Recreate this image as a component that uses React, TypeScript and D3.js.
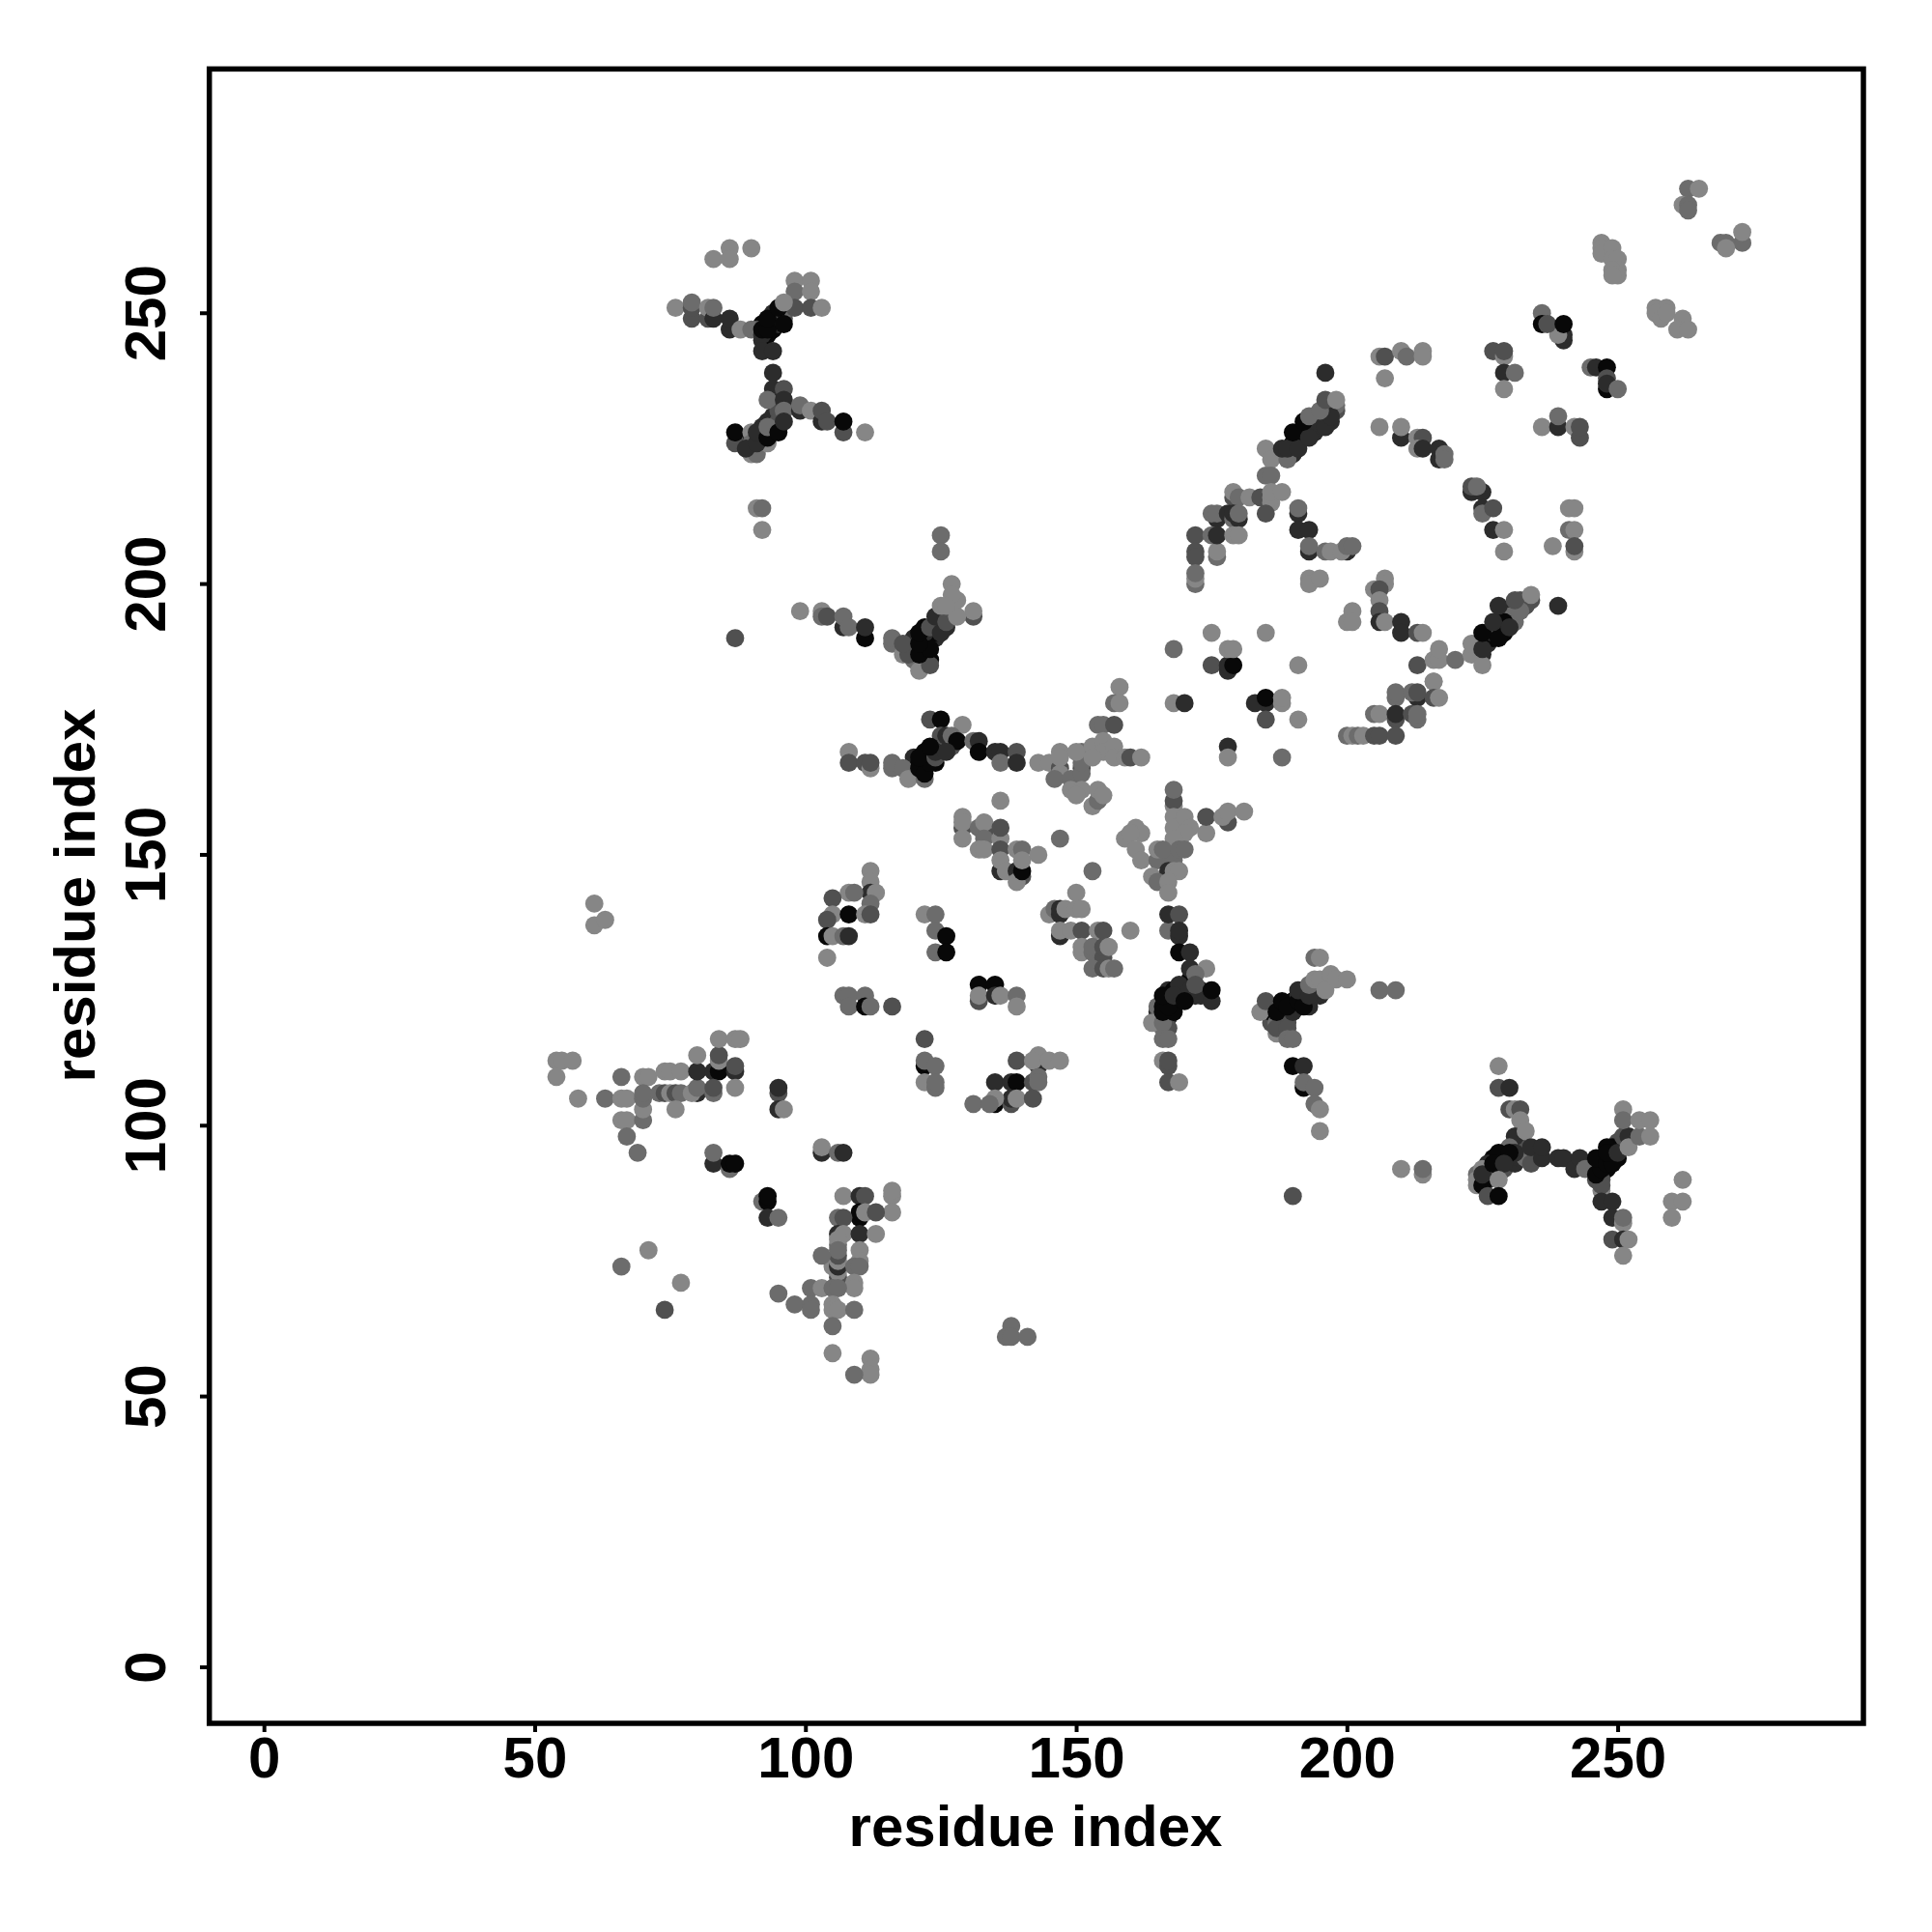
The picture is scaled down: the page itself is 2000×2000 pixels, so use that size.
import React from "react";
import * as d3 from "d3";

const L = 134, M = 108, D = 80, K = 44, B = 8;
type P = [number, number, number];

const tickValues = [0, 50, 100, 150, 200, 250];
const axisTitle = "residue index";

const denseStrands: P[] = [
  // ring upper diagonal
  [189,224,K],[190,225,B],[191,226,K],[192,227,B],[193,228,K],[194,229,B],[195,230,K],[196,231,K],[197,232,K],[190,224,K],[191,227,B],[192,228,K],[193,229,B],[194,230,K],[195,231,D],[196,232,D],[197,233,D],[194,228,K],[195,229,K],[188,224,K],[187,224,D],[190,226,B],
  [196,230,K],[197,230,K],[198,232,D],[198,233,M],
  // ring lower diagonal
  [226,189,K],[227,190,B],[228,191,B],[229,192,B],[230,193,K],[231,194,K],[232,196,D],[233,196,D],[234,197,D],[226,191,B],[227,192,B],[228,193,K],[229,194,K],[230,195,K],[231,195,K],[232,197,D],[233,197,D],[226,190,B],[227,191,K],[228,192,D],[229,191,B],[230,194,M],[231,193,M],[229,193,B],[224,188,M],[225,187,K],
  // upper left Y
  [90,227,K],[91,227,B],[92,228,B],[92,229,K],[93,230,K],[94,230,B],[94,231,K],[95,231,K],[95,232,D],[96,233,D],[94,228,B],[92,226,K],[94,229,K],[93,228,B],[92,227,D],[95,229,B],[95,230,D],
  [92,245,K],[92,248,B],[93,248,B],[94,249,B],[94,250,K],[95,250,B],[96,250,B],[94,247,B],[93,246,B],[91,247,D],[95,249,B],[94,248,K],[95,248,K],[96,249,D],[97,251,M],
  // upper mid
  [120,188,B],[120,190,K],[122,188,B],[122,190,B],[122,192,B],[123,190,B],[124,190,K],[124,192,D],[125,193,K],[126,195,K],[127,195,D],[127,196,M],[120,187,D],[122,186,B],[123,186,B],[121,186,K],[125,192,K],[126,192,K],[124,191,B],[122,191,K],[120,186,M],[119,188,D],
  // centre chain
  [120,166,B],[120,167,B],[120,168,K],[122,166,B],[122,167,B],[122,169,B],[123,168,B],[124,170,K],[125,170,K],[125,171,K],[126,171,D],[126,170,K],[127,170,D],[121,167,B],[122,168,D],[124,167,B],[125,169,B],[127,171,K],[123,169,K],[120,165,D],[121,165,K],
  // centre stem
  [165,120,M],[167,120,K],[167,123,B],[168,122,B],[168,123,K],[169,123,B],[169,124,B],[170,124,K],[170,125,B],[171,126,K],[171,127,B],[172,125,K],[169,125,D],[165,121,K],[173,125,K],[173,124,K],[171,124,B],[172,124,K],[165,119,M],[166,118,M],[167,118,D],[167,125,K],[168,125,B],[166,120,B],
  // right branch
  [186,120,B],[187,120,B],[188,120,K],[188,121,B],[189,120,K],[189,121,B],[190,122,B],[190,123,B],[191,122,B],[191,124,K],[192,124,K],[192,125,D],[193,125,K],[192,123,B],[193,122,K],[194,125,D],[186,119,D],[188,119,D],[186,121,B],[194,124,K],[195,124,K],[193,123,K],[187,119,M],[189,119,D],
  // lower right, left arm
  [225,90,B],[226,90,K],[226,91,B],[226,92,B],[227,91,K],[227,92,B],[228,93,B],[228,94,K],[229,94,K],[229,95,B],[230,94,K],[232,96,D],[227,94,B],[229,92,D],[226,93,K],[228,92,D],[224,91,M],[231,93,K],[232,94,K],[233,94,M],
  // lower right, right arm
  [246,92,B],[246,93,B],[247,93,B],[247,94,B],[248,94,B],[249,94,B],[249,95,K],[250,96,K],[250,97,D],[251,96,B],[251,97,K],[247,91,K],[248,92,B],[245,92,K],[246,90,D],[247,90,D],[249,96,B],[250,94,B],[245,93,B],
  // small black stacks
  [106,78,M],[106,72,D],
];

const lowerLeft: P[] = [
  [54,112,L],[55,112,L],[57,112,L],[54,109,L],[58,105,L],[63,105,M],[66,109,M],[66,105,L],[67,105,L],[66,101,L],[67,101,L],[67,98,M],[69,95,M],
  [70,109,L],[71,109,L],[70,101,M],[70,103,L],[70,105,M],[70,106,M],[74,110,L],[75,110,L],[77,110,L],[73,106,M],[74,106,D],[75,106,L],[76,106,D],[77,106,M],[76,103,L],
  [80,106,K],[79,106,L],[80,107,M],[80,110,K],[80,113,L],[83,110,K],[84,110,B],[84,112,L],[84,113,D],[84,116,L],[83,106,M],[83,107,D],[87,116,L],[88,116,L],[87,110,K],[87,111,D],[87,107,L],
  [95,106,D],[95,107,K],[95,103,K],[96,103,L],[83,93,K],[83,95,M],[86,92,M],[86,93,B],[87,93,B],[103,95,K],[103,96,L],[106,95,M],[107,95,K],
  [92,86,M],[93,86,B],[93,87,B],[93,83,K],[95,83,M],
];
const lowerStem: P[] = [
  [107,87,L],[110,87,K],[111,87,D],[116,87,L],[116,88,L],[116,84,L],[110,83,B],[110,84,B],[111,84,L],[113,84,D],[106,83,M],[107,83,D],
  [106,80,K],[107,80,L],[110,80,K],[113,80,L],[106,79,L],[106,73,L],[105,74,L],[106,74,K],[106,75,L],[106,76,D],[106,77,M],[103,76,M],
  [110,77,L],[110,75,L],[109,74,M],[110,74,M],[109,71,L],[109,70,L],[101,70,M],[103,70,L],[105,70,M],[106,70,M],[95,69,M],[98,67,M],[101,67,M],[101,66,M],
  [105,67,L],[105,66,L],[106,66,L],[109,66,M],[105,63,M],[105,58,L],[112,57,L],[112,55,L],[112,54,L],[109,54,M],
  [138,63,M],[137,61,M],[138,61,M],[141,61,M],[66,74,M],[71,77,L],[77,71,L],[74,66,D],[61,141,L],[61,137,L],[63,138,L],
];
const midLeft: P[] = [
  [122,116,D],[122,111,B],[122,112,M],[124,111,M],[122,108,L],[124,107,M],[124,108,M],
  [112,147,L],[112,145,L],[112,143,K],[113,143,L],[108,143,L],[109,143,M],[105,142,D],[112,141,M],[105,139,L],[104,138,D],[108,139,B],[111,139,L],[112,139,D],
  [104,135,B],[105,135,L],[107,135,M],[108,135,K],[104,131,L],[122,139,L],[124,139,M],[124,136,M],[126,135,B],[124,132,M],[126,132,B],
  [107,124,M],[108,124,M],[111,124,M],[108,122,M],[111,122,B],[112,122,M],[116,122,D],
  [132,123,D],[132,126,B],[135,126,B],[132,124,L],[135,124,K],[136,124,L],[139,124,M],[139,122,L],
  [143,111,K],[139,112,D],[143,113,L],[142,112,L],[145,112,L],[147,112,L],[135,108,K],[138,108,K],[139,108,B],[142,108,D],[143,109,M],[143,108,M],
  [135,104,B],[138,104,D],[138,105,K],[135,105,L],[139,105,L],[142,105,D],[131,104,M],[134,104,M],
];
const centerChain: P[] = [
  [123,175,D],[125,175,B],[129,174,L],[125,172,D],[126,172,K],[127,172,M],[128,171,B],[131,171,M],[132,171,K],[132,169,B],[135,169,K],[136,169,K],[139,169,D],[136,167,M],[139,167,K],
  [108,169,L],[108,167,D],[111,167,D],[112,166,L],[112,167,D],[116,166,M],[116,167,M],[118,166,M],[119,164,L],[122,164,M],
  [121,166,B],[122,165,B],[123,167,B],[121,168,B],[124,168,D],[124,169,K],[126,169,K],[123,170,B],
];
const centerLight: P[] = [
  [158,181,L],[157,178,M],[158,178,L],[154,174,M],[155,174,M],[157,174,D],
  [143,167,L],[145,167,L],[147,166,D],[147,165,L],[146,164,M],[149,164,M],[147,169,L],[147,168,L],[151,166,D],[151,165,M],[151,167,M],[151,169,M],[150,169,L],
  [149,162,L],[151,162,L],[150,161,L],[153,159,L],[154,160,M],[154,162,L],[155,161,L],
  [153,170,L],[155,171,L],[155,169,L],[153,168,L],[157,170,L],[157,168,L],[159,168,L],[160,168,D],[162,168,L],
  [168,159,L],[168,160,D],[168,162,M],[168,157,L],[168,155,L],[170,157,L],[171,155,L],[170,154,L],[168,153,L],
  [174,154,L],[174,157,D],[178,156,D],[177,157,L],[178,158,L],[181,158,L],
  [161,155,L],[162,154,L],[159,153,L],[160,154,L],[161,151,L],[162,149,L],[165,149,M],[168,149,M],[165,151,L],[166,151,M],[169,151,M],[170,151,M],
  [164,146,L],[167,147,K],[168,147,L],[169,147,L],[165,145,M],[167,145,L],[167,143,L],
];
const centerBlocks: P[] = [
  [129,155,D],[129,157,L],[129,156,L],[129,153,L],[133,154,D],[132,155,M],[133,156,L],[133,153,M],[132,151,L],[133,151,L],[136,153,L],[136,155,D],[136,151,D],[136,147,K],[136,149,L],[137,147,L],[136,160,L],
  [139,147,K],[140,146,D],[139,145,L],[140,147,B],[139,151,L],[140,151,M],[140,149,L],[143,150,L],[147,153,M],[153,147,M],
  [150,143,L],[145,139,L],[146,140,M],[147,139,K],[147,140,K],[148,140,L],[150,140,L],[151,140,L],
  [147,135,K],[147,136,L],[149,136,L],[151,136,D],[154,136,L],[155,136,D],[160,136,L],
  [151,132,L],[151,133,L],[153,132,M],[153,133,M],[155,131,D],[155,133,D],[156,133,L],[153,129,M],[155,129,D],[156,129,L],[157,129,M],
];
const centerStem: P[] = [
  [167,136,M],[167,139,K],[169,139,D],[169,135,K],[169,136,K],[169,132,B],[171,132,K],[171,129,K],[174,129,L],[172,128,M],[169,126,K],[171,125,K],[172,126,D],[175,123,K],[175,125,B],
  [165,122,M],[164,119,L],[166,119,M],[166,116,M],[167,116,M],[166,122,B],[166,121,B],[168,121,B],[167,122,B],[166,124,B],[168,124,K],[170,123,B],
  [166,112,L],[167,111,D],[167,112,D],[167,108,D],[169,108,L],
];
const rightBranch: P[] = [
  [184,121,L],[185,123,D],[187,117,L],[187,118,D],[189,118,D],[189,116,M],[190,116,M],[187,121,B],[188,123,B],[190,121,K],[189,122,B],[191,123,B],[192,122,B],[191,125,K],[193,124,K],[193,126,M],
  [194,131,M],[195,131,L],[194,127,L],[195,127,L],[196,125,L],[197,128,L],[198,127,L],[200,127,L],[206,125,M],[209,125,M],
  [190,111,B],[192,111,K],[192,107,B],[192,108,M],[194,107,M],[194,104,M],[195,103,L],[195,99,L],[210,92,L],[214,91,L],[214,92,M],[190,87,D],
];
const lowerRight: P[] = [
  [228,111,L],[228,107,D],[230,107,K],[230,103,D],[231,103,L],[232,103,D],[232,101,L],[231,98,K],[233,99,L],[230,96,M],[231,95,K],[234,93,D],[234,96,K],[236,94,K],[236,96,K],
  [239,94,K],[240,94,K],[242,92,K],[243,94,K],[244,92,M],
  [224,89,L],[224,90,L],[225,92,L],[225,89,B],[225,91,K],[228,95,B],[230,95,B],[227,93,B],[229,93,K],[228,90,L],[226,87,D],[228,87,B],
  [247,88,L],[247,89,D],[246,91,B],[247,92,B],[246,94,B],[248,93,B],[249,93,B],[248,96,B],[248,95,B],[250,95,K],[251,98,D],[252,98,K],[252,96,L],[254,98,M],[256,98,L],
  [251,103,L],[251,101,M],[254,101,L],[256,101,L],
  [247,86,K],[249,86,K],[249,83,K],[251,82,L],[251,83,M],[249,79,D],[251,79,K],[252,79,L],[251,76,L],[262,90,L],[260,86,L],[262,86,L],[260,83,L],
];
const upperLeft: P[] = [
  [86,262,L],[90,262,L],[83,260,L],[86,260,L],[98,256,L],[101,256,L],[98,254,M],[101,254,L],[98,251,D],[101,251,D],[103,251,L],
  [76,251,L],[79,249,D],[79,251,D],[79,252,M],[82,249,D],[82,251,L],[83,249,K],[83,251,M],[86,247,K],[86,249,K],
  [88,247,L],[90,247,M],[92,246,K],[92,247,B],[93,247,B],[93,249,B],[95,251,B],[96,252,L],[96,248,B],
  [92,243,K],[94,243,K],[94,239,K],[94,236,K],[96,236,D],[93,234,M],[96,234,K],[96,232,M],[99,232,K],[99,233,M],[101,232,L],[103,230,K],[103,232,D],[104,230,D],[107,228,D],[107,230,B],[111,228,L],
  [87,226,D],[87,228,B],[90,228,L],[90,224,L],[91,224,M],[93,226,L],[90,226,M],[89,225,K],[91,226,K],[91,228,K],[93,227,B],[93,229,M],[95,228,B],[96,230,K],
  [91,214,L],[92,214,M],[92,210,L],[125,209,M],[125,206,M],
];
const upperMid: P[] = [
  [99,195,L],[103,195,L],[103,194,M],[104,194,D],[107,192,K],[107,194,M],[108,192,M],[111,190,B],[111,192,K],[87,190,D],
  [116,189,M],[116,190,M],[118,187,L],[119,187,D],[118,189,D],[121,184,L],[123,185,D],
  [121,187,B],[123,188,B],[121,189,B],[121,191,B],[123,192,D],[125,191,K],[124,194,K],[126,193,D],
  [131,194,D],[131,195,L],[125,196,L],[127,200,L],[128,197,L],[128,194,L],[127,198,L],[126,196,L],
];
const upperRightTip: P[] = [
  [263,273,M],[265,273,L],[262,270,L],[263,270,M],[263,269,M],[273,263,M],[273,265,L],[269,263,M],[270,263,M],[270,262,L],
  [247,263,L],[247,262,L],[247,261,L],[249,262,L],[249,260,L],[250,260,L],[250,258,L],[249,258,L],[250,257,L],[249,257,L],
  [257,251,L],[259,251,L],[257,250,L],[258,249,L],[259,250,L],[262,249,L],[261,247,L],[263,247,L],
  [240,245,K],[240,246,K],[239,246,L],[236,250,M],[236,248,B],[237,248,D],[240,248,B],
  [227,243,D],[229,242,L],[229,243,D],[229,239,K],[231,239,M],[229,236,L],
  [245,240,M],[246,240,K],[248,240,B],[248,238,D],[248,236,B],[248,237,K],[250,236,M],
];
const upperRing: P[] = [
  [196,239,K],[206,242,L],[207,242,D],[210,243,L],[211,242,M],[214,243,L],[214,242,L],[207,238,L],
  [206,229,L],[210,227,K],[210,229,L],[213,227,L],[214,227,D],[213,225,L],[214,225,K],[217,223,K],[217,225,K],[218,224,M],[218,223,M],
  [236,229,L],[239,229,K],[239,231,M],[242,229,L],[243,227,D],[243,229,D],
  [223,217,K],[225,217,K],[223,218,D],[224,218,M],[225,214,K],[225,213,M],[227,214,D],[227,210,K],[229,210,L],[229,206,L],
  [241,214,L],[242,214,L],[241,210,M],[242,210,L],[242,206,L],[242,207,D],[238,207,L],
];
const diagonalA: P[] = [
  [185,225,L],[186,223,L],[189,223,M],[188,225,K],[189,225,K],[191,225,K],[190,228,B],[193,227,K],[192,230,B],[193,231,M],[196,229,K],[197,231,K],[195,232,M],[196,234,D],[198,234,L],
  [185,220,M],[186,220,M],[179,216,D],[179,217,L],[180,216,M],[182,216,L],[184,216,D],[186,215,L],[186,216,L],[186,217,L],[188,217,L],[185,213,D],[191,213,K],[191,214,M],[191,210,K],[193,210,K],[193,206,K],[193,207,M],
  [196,206,M],[197,206,L],[200,206,K],[199,206,L],[200,207,M],[201,207,M],[193,201,L],[193,200,L],[195,201,L],
  [172,209,D],[172,206,D],[172,205,D],[172,200,M],[172,201,L],[172,202,M],[176,205,M],[176,206,L],
  [176,212,K],[175,213,M],[176,213,M],[178,213,K],[179,212,M],[180,212,K],[179,213,K],[180,213,M],[175,209,M],[176,209,K],[179,209,L],[180,209,L],
];
const ringLower: P[] = [
  [207,201,L],[207,200,L],[205,199,L],[206,199,D],[206,197,L],[206,195,D],[201,195,L],[200,193,L],[201,193,L],[206,193,K],[207,193,L],
  [210,193,K],[210,191,K],[213,191,D],[214,191,L],[185,191,L],[191,185,L],
  [213,185,D],[216,186,L],[217,186,L],[217,188,L],[216,182,L],[220,186,M],[223,187,L],[223,189,L],[225,185,L],
  [225,188,K],[225,191,B],[228,190,B],[227,193,K],[228,196,K],[230,192,K],[232,195,M],[231,197,D],[234,198,L],[239,196,K],
];
const ringBottom: P[] = [
  [185,178,K],[183,178,K],[185,179,B],[188,178,L],[188,179,L],[185,175,D],[191,175,L],[178,170,K],[178,168,L],[188,168,M],
  [216,182,L],[209,179,M],[209,180,M],[213,179,K],[212,180,M],[213,180,D],[216,179,D],[217,179,L],
  [205,176,M],[206,176,L],[209,175,D],[209,176,K],[212,176,D],[213,175,M],[213,176,M],
  [200,172,M],[201,172,L],[202,172,M],[203,172,L],[205,172,D],[206,172,D],[209,172,D],
  [168,178,L],[170,178,K],[175,185,D],[178,184,K],[178,185,K],[179,185,B],[168,188,M],[175,191,L],[178,188,L],[179,188,L],
];

const allPoints: P[] = [
  ...denseStrands, ...lowerLeft, ...lowerStem, ...midLeft, ...centerChain, ...centerLight, ...centerBlocks, ...centerStem,
  ...rightBranch, ...lowerRight, ...upperLeft, ...upperMid, ...upperRightTip, ...upperRing, ...diagonalA, ...ringLower, ...ringBottom,
];

const x = d3.scaleLinear().domain([-10.17, 295.3]).range([216.7, 1929]);
const y = d3.scaleLinear().domain([-10.35, 295.1]).range([1784, 71.4]);
const font = "'Liberation Sans', Arial, sans-serif";

export default function App() {
  return (
    <svg width={2000} height={2000} viewBox="0 0 2000 2000" style={{ position: "absolute", left: 0, top: 0, background: "#fff" }}>
      {allPoints.map(([px, py, g], i) => (
        <circle key={i} cx={x(px) - 0.4} cy={y(py)} r={9.4} fill={d3.rgb(g, g, g).formatHex()} />
      ))}
      <rect x={216.7} y={71.4} width={1712.3} height={1712.6} fill="none" stroke="#000" strokeWidth={5.5} />
      {tickValues.map((t) => (
        <g key={"x" + t}>
          <line x1={x(t)} x2={x(t)} y1={1786} y2={1793} stroke="#000" strokeWidth={4} />
          <text x={x(t)} y={1840} textAnchor="middle" fontFamily={font} fontWeight="bold" fontSize={60}>{t}</text>
        </g>
      ))}
      {tickValues.map((t) => (
        <g key={"y" + t}>
          <line x1={207} x2={215} y1={y(t)} y2={y(t)} stroke="#000" strokeWidth={4} />
          <text transform={`translate(171,${y(t)}) rotate(-90)`} textAnchor="middle" fontFamily={font} fontWeight="bold" fontSize={60}>{t}</text>
        </g>
      ))}
      <text x={1072} y={1911} textAnchor="middle" fontFamily={font} fontWeight="bold" fontSize={60}>{axisTitle}</text>
      <text transform="translate(98,927) rotate(-90)" textAnchor="middle" fontFamily={font} fontWeight="bold" fontSize={60}>{axisTitle}</text>
    </svg>
  );
}
